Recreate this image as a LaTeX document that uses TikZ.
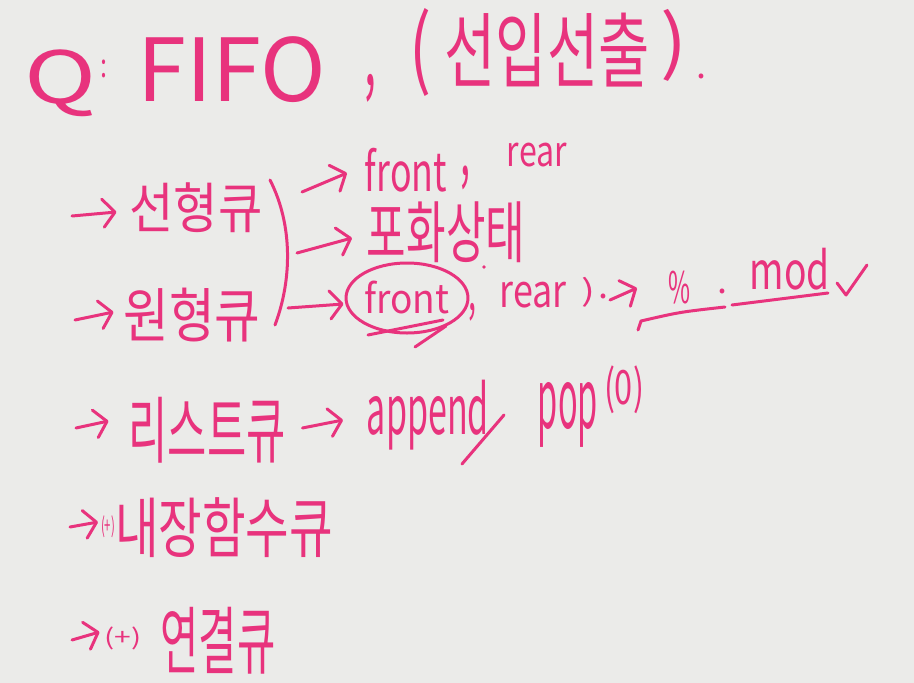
\documentclass[tikz,border=0pt]{standalone}
\usepackage{fontspec}
\setmainfont{Noto Sans CJK KR}
\usetikzlibrary{arrows.meta,calc}
\definecolor{inkpink}{HTML}{E8337D}
\definecolor{board}{HTML}{EBEBE9}
% fit a piece of handwriting into a w x h box (pt)
\newcommand{\fitw}[3]{\resizebox*{#1pt}{#2pt}{#3}}

\begin{document}
\begin{tikzpicture}[x=1pt,y=-1pt,
  ink/.style={draw=inkpink,line width=3pt,line cap=round,line join=round},
  pen/.style={ink,-{Straight Barb[length=12pt,width=28pt,round]}},
  hand/.style={text=inkpink,inner sep=0pt,outer sep=0pt},
  dotmark/.style={hand,font=\fontsize{36}{36}\selectfont}]
  % board
  \fill[board] (0,0) rectangle (914,683);
  \useasboundingbox (0,0) rectangle (914,683);

  % title
  \node[hand] (q) at (61,83) {\fitw{72}{67}{Q}};
  \node[hand] (colon) at (104,69) {\fitw{7}{18}{:}};
  \node[hand] (fifo) at (232,70) {\fitw{188}{66}{FIFO}};
  \node[hand] (c0) at (370,88) {\fitw{12}{28}{,}};
  \node[hand] (lp) at (421,52) {\fitw{22}{88}{(}};
  \node[hand] (kor) at (547,50) {\fitw{205}{74}{선입선출}};
  \node[hand] (rp) at (674,45) {\fitw{27}{72}{)}};
  \node[dotmark] (dot) at (701,76) {.};

  % linear / circular queue
  \node[hand] (lin) at (196,208) {\fitw{133}{50}{선형큐}};
  \node[hand] (cir) at (192,315) {\fitw{137}{54}{원형큐}};
  \coordinate (a1) at (72,216);
  \coordinate (a2) at (75,320);
  \draw[pen] (a1) -- ($(lin.west)+(-13,4)$);
  \draw[pen] (a2) -- ($(cir.west)+(-10,-3)$);

  % bracket
  \coordinate (bt) at (270,180);
  \coordinate (bb) at (275,325);
  \draw[ink] (bt) .. controls (293,225) and (292,280) .. (bb);

  % branches
  \coordinate (b1) at (302,192);
  \coordinate (b2) at (297,253);
  \coordinate (b3) at (288,308);
  \node[hand] (front) at (406,170) {\fitw{82}{44}{front}};
  \node[hand] (c1) at (465,178) {\fitw{10}{24}{,}};
  \node[hand] (rear) at (537,155) {\fitw{60}{24}{rear}};
  \node[hand] (full) at (446,232) {\fitw{158}{61}{포화상태}};
  \node[hand] (fst) at (407,298) {\fitw{85}{33}{front}};
  \draw[ink] (fst) ellipse [x radius=61pt,y radius=35pt];
  \draw[ink] (368,335) -- (443,320);
  \draw[ink] (415,347) -- (446,326);
  \node[hand] (c2) at (472,312) {\fitw{8}{18}{,}};
  \fill[inkpink] (484,267) circle (1.8pt);
  \node[hand] (rear2) at (533,295) {\fitw{67}{26}{rear}};
  \node[hand] (rp2) at (588,292) {\fitw{14}{30}{)}};
  \node[dotmark] (dot2) at (603,296) {.};
  \draw[pen] (b1) -- ($(front.west)+(-18,3)$);
  \draw[pen] (b2) -- ($(full.west)+(-15,6)$);
  \draw[pen] (b3) -- ($(fst.west)+(-21,6)$);

  % modulo
  \coordinate (m0) at (610,300);
  \node[hand] (pct) at (679,288) {\fitw{22}{33}{\%}};
  \node[dotmark] (dot3) at (722,291) {.};
  \node[hand] (mod) at (790,269) {\fitw{80}{42}{mod}};
  \draw[pen] (m0) -- ($(pct.west)+(-31,0)$);
  \draw[ink] (638,330) -- (641,321) .. controls (680,312) .. (725,307);
  \draw[ink] (732,305) -- (828,293);
  \draw[ink] (837,283) -- (846,295) -- (867,265);

  % list queue
  \node[hand] (list) at (207,430) {\fitw{157}{66}{리스트큐}};
  \node[hand] (app) at (428,415) {\fitw{122}{70}{append}};
  \draw[ink] (504,415) -- (462,464);
  \node[hand] (pop) at (568,415) {\fitw{60}{65}{pop}};
  \node[hand] (pz) at (624,390) {\fitw{40}{48}{(0)}};
  \coordinate (a3) at (76,428);
  \draw[pen] (a3) -- ($(list.west)+(-20,-9)$);
  \draw[pen] ($(list.east)+(17,-2)$) -- ($(app.west)+(-24,5)$);

  % builtin / linked queue
  \node[hand] (p4) at (108,527) {\fitw{14}{22}{(+)}};
  \node[hand] (lib) at (224,528) {\fitw{218}{60}{내장함수큐}};
  \node[hand] (p5) at (123,638) {\fitw{37}{23}{(+)}};
  \node[hand] (link) at (218,641) {\fitw{115}{67}{연결큐}};
  \coordinate (a4) at (70,527);
  \coordinate (a5) at (72,640);
  \draw[pen] (a4) -- ($(p4.west)+(-3,-5)$);
  \draw[pen] (a5) -- ($(p5.west)+(-5,-6)$);
\end{tikzpicture}
\end{document}
